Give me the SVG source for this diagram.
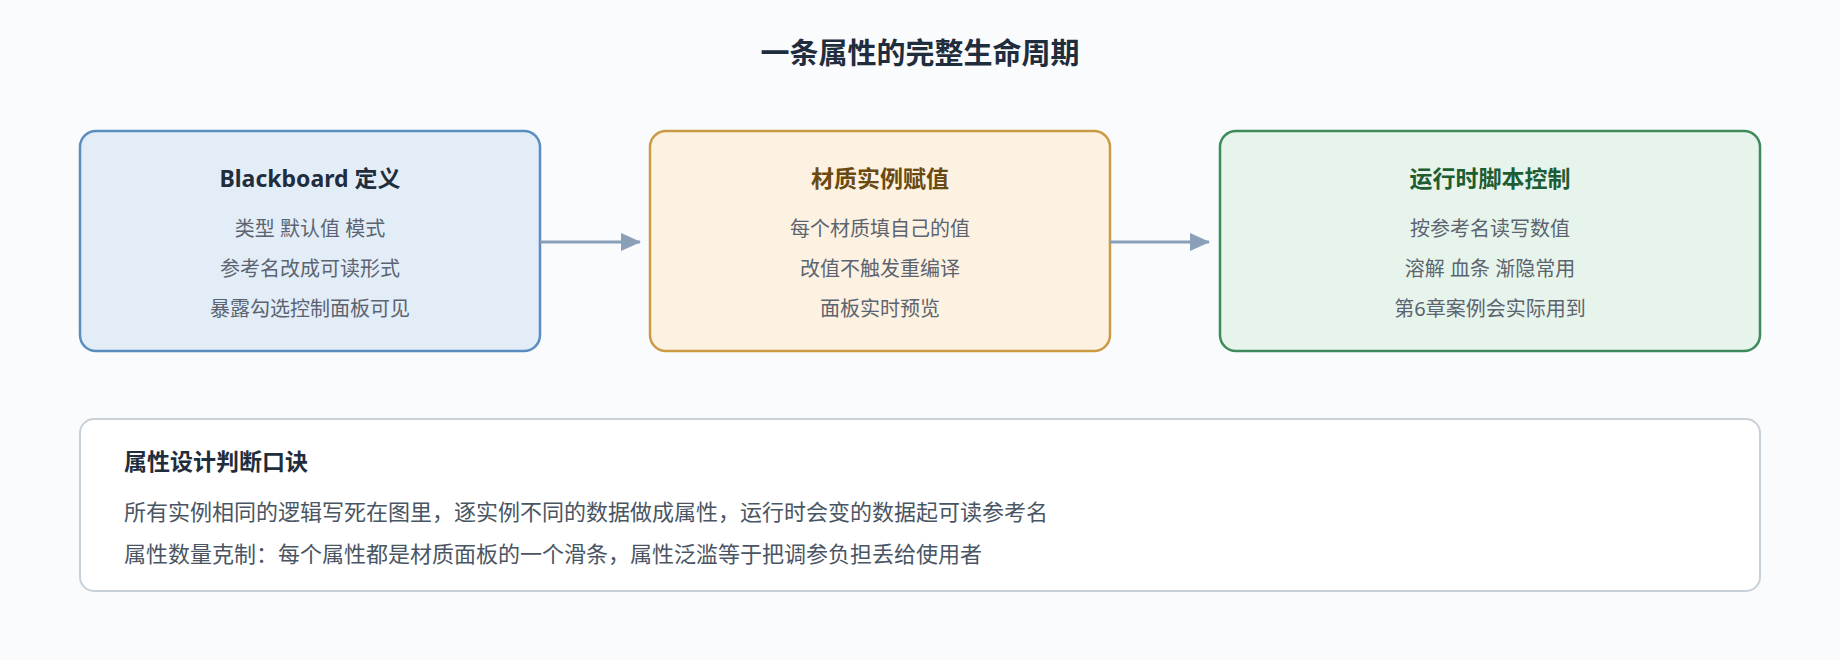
<svg xmlns="http://www.w3.org/2000/svg" width="1840" height="660" viewBox="0 0 1840 660">
<style>
text{font-family:"Noto Sans","Noto Sans CJK SC",sans-serif}
.t{font-size:29px;font-weight:bold;fill:#1f2d3d;text-anchor:middle}
.h{font-size:23px;font-weight:bold;text-anchor:middle}
.b{font-size:20px;fill:#5b6470;text-anchor:middle}
.l{font-size:22px;fill:#4a5563}
.c{stroke:#8aa0b8;stroke-width:3;fill:none}
</style>
<defs><marker id="a" markerWidth="10" markerHeight="10" refX="9" refY="5" orient="auto" markerUnits="userSpaceOnUse"><path d="M0,0 L10,5 L0,10 z" fill="#8aa0b8"/></marker>
<marker id="ar" markerWidth="20" markerHeight="20" refX="19" refY="10" orient="auto" markerUnits="userSpaceOnUse"><path d="M0,1 L20,10 L0,19 z" fill="#8aa0b8"/></marker></defs>
<rect width="1840" height="660" fill="#f9fbfd"/>
<text class="t" x="920" y="64">一条属性的完整生命周期</text>
<g id="n1"><rect x="80" y="131" width="460" height="220" rx="16" fill="#e3edf8" stroke="#5b8dbf" stroke-width="2.5"/>
<text class="h" x="310" y="187" fill="#1f2d3d">Blackboard 定义</text>
<text class="b" x="310" y="236">类型 默认值 模式</text><text class="b" x="310" y="276">参考名改成可读形式</text><text class="b" x="310" y="316">暴露勾选控制面板可见</text></g>
<g id="n2"><rect x="650" y="131" width="460" height="220" rx="16" fill="#fdf2e1" stroke="#cc9a45" stroke-width="2.5"/>
<text class="h" x="880" y="187" fill="#6b4a12">材质实例赋值</text>
<text class="b" x="880" y="236">每个材质填自己的值</text><text class="b" x="880" y="276">改值不触发重编译</text><text class="b" x="880" y="316">面板实时预览</text></g>
<g id="n3"><rect x="1220" y="131" width="540" height="220" rx="16" fill="#e7f4eb" stroke="#3d8b5a" stroke-width="2.5"/>
<text class="h" x="1490" y="187" fill="#1e5c33">运行时脚本控制</text>
<text class="b" x="1490" y="236">按参考名读写数值</text><text class="b" x="1490" y="276">溶解 血条 渐隐常用</text><text class="b" x="1490" y="316">第6章案例会实际用到</text></g>
<g id="connectors">
<line class="c" x1="540" y1="242" x2="640" y2="242" marker-end="url(#ar)"/>
<line class="c" x1="1110" y1="242" x2="1209" y2="242" marker-end="url(#ar)"/>
</g>
<g id="note"><rect x="80" y="419" width="1680" height="172" rx="14" fill="#ffffff" stroke="#c8d0d8" stroke-width="2"/>
<text x="124" y="470" font-size="23" font-weight="bold" fill="#1f2d3d">属性设计判断口诀</text>
<text class="l" x="124" y="520">所有实例相同的逻辑写死在图里，逐实例不同的数据做成属性，运行时会变的数据起可读参考名</text>
<text class="l" x="124" y="562">属性数量克制：每个属性都是材质面板的一个滑条，属性泛滥等于把调参负担丢给使用者</text></g>
</svg>
